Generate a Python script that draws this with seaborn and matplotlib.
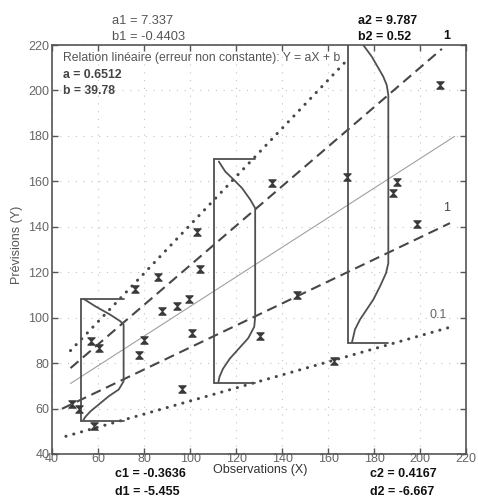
import matplotlib
matplotlib.use("Agg")
import matplotlib.pyplot as plt
from matplotlib.path import Path
import seaborn as sns
import pandas as pd

# ---------------- data ----------------
obs_x = [103.0, 104.5, 86.1, 76.2, 87.6, 94.3, 99.4, 100.9, 79.9, 77.7, 56.7, 60.3,
         135.7, 146.5, 130.6, 168.3, 162.5, 48.7, 51.6, 58.1, 96.5, 189.9, 188.1,
         198.6, 208.7]
pred_y = [137.5, 121.4, 117.9, 112.6, 102.8, 105.0, 108.2, 93.3, 90.3, 83.7, 89.6, 86.7,
          159.2, 110.1, 92.1, 162.1, 80.8, 62.0, 59.6, 52.3, 68.6, 159.9, 154.8,
          141.3, 202.4]

reg_a = 0.6512
reg_b = 39.78
reg_x = [48, 215]

upper_dash_x = [48, 209.5]
upper_dash_y = [77.8, 218.3]
lower_dash_x = [44.3, 213]
lower_dash_y = [59.9, 141.6]
upper_dot_x = [48, 167]
upper_dot_y = [85.5, 212.0]
lower_dot_x = [46, 212]
lower_dot_y = [47.8, 95.5]

# conditional distributions (base X, width, top, bottom, curve offsets / levels)
dist_x0 = [52.6, 110.3, 168.6]
dist_w = [18.5, 18.0, 17.6]
dist_top = [108.4, 169.8, 220.0]
dist_bottom = [54.5, 71.2, 88.9]
dist_has_top_line = [True, True, False]
curve1_dx = [1.2, 6.2, 12.7, 17.1, 18.5, 18.5, 16.4, 12.0, 7.7, 4.1, 1.9, 1.0]
curve1_y = [108.2, 105.0, 101.3, 98.4, 96.9, 72.0, 68.4, 65.4, 61.8, 58.8, 56.4, 55.0]
curve2_dx = [2.2, 5.0, 8.7, 12.3, 15.9, 18.0, 18.0, 17.6, 15.0, 11.0, 7.0, 4.0, 2.5, 2.0]
curve2_y = [168.7, 164.3, 160.7, 157.0, 151.9, 148.2, 100.3, 96.0, 91.0, 86.5, 82.0, 77.5, 74.0, 71.5]
curve3_dx = [6.7, 10.4, 13.3, 15.4, 16.9, 17.6, 17.6, 16.6, 14.0, 11.1, 8.2, 5.3, 3.1, 2.1, 1.8]
curve3_y = [220.0, 214.9, 209.8, 206.1, 202.4, 198.0, 124.0, 119.6, 113.8, 108.0, 103.6, 99.2, 94.8, 90.4, 89.2]
curves_dx = [curve1_dx, curve2_dx, curve3_dx]
curves_y = [curve1_y, curve2_y, curve3_y]

x_ticks = [40, 60, 80, 100, 120, 140, 160, 180, 200, 220]
y_ticks = [40, 60, 80, 100, 120, 140, 160, 180, 200, 220]

# ---------------- style ----------------
sns.set_theme(style="white")
plt.rcParams["font.family"] = ["Liberation Sans", "DejaVu Sans"]

fig = plt.figure(figsize=(4.78, 5.0), dpi=100)
ax = fig.add_axes([0.109, 0.092, 0.866, 0.818])
ax.set_xlim(40, 220)
ax.set_ylim(40, 220)

frame = "#555555"
for s in ax.spines.values():
    s.set_color(frame)
    s.set_linewidth(1.2)
ax.set_xticks(x_ticks)
ax.set_yticks(y_ticks)
ax.tick_params(axis="both", which="both", direction="in", length=4, width=1,
               colors=frame, labelcolor="#666666", labelsize=9, pad=2,
               top=True, right=True, bottom=True, left=True)
ax.tick_params(axis="x", pad=-1)
ax.grid(True, linestyle=(0, (1, 6)), color="#c4c4c4", linewidth=0.8)

dark = "#474747"
# regression line
reg_df = pd.DataFrame({"x": reg_x, "y": [reg_a * v + reg_b for v in reg_x]})
sns.lineplot(data=reg_df, x="x", y="y", ax=ax, color="#a0a0a0", linewidth=0.8)
# dashed bounds
sns.lineplot(x=upper_dash_x, y=upper_dash_y, ax=ax, color=dark, linewidth=1.5,
             linestyle=(0, (5, 2.8)))
sns.lineplot(x=lower_dash_x, y=lower_dash_y, ax=ax, color=dark, linewidth=1.5,
             linestyle=(0, (5, 2.8)))
# dotted bounds
for xs, ys in [(upper_dot_x, upper_dot_y), (lower_dot_x, lower_dot_y)]:
    ln = ax.plot(xs, ys, color=dark, linewidth=2.2, linestyle=(0, (0.05, 2.6)))[0]
    ln.set_dash_capstyle("round")

# distributions
shape_c = "#505050"
for x0, w, top, bot, has_top, cdx, cy in zip(dist_x0, dist_w, dist_top, dist_bottom,
                                             dist_has_top_line, curves_dx, curves_y):
    ax.plot([x0, x0], [bot, top], color=shape_c, linewidth=1.3)
    ax.plot([x0, x0 + w], [bot, bot], color=shape_c, linewidth=1.3)
    if has_top:
        ax.plot([x0, x0 + w], [top, top], color=shape_c, linewidth=1.3)
    ax.plot([x0 + d for d in cdx], cy, color=shape_c, linewidth=1.3)

# points
hour = Path([(-1, 1), (1, 1), (-1, -1), (1, -1), (-1, 1)],
            [Path.MOVETO, Path.LINETO, Path.LINETO, Path.LINETO, Path.CLOSEPOLY])
sns.scatterplot(x=obs_x, y=pred_y, ax=ax, marker=hour, s=28, color="#3a3a3a",
                edgecolor="#3a3a3a", linewidth=0.8, zorder=5)

ax.set_xlabel("")
ax.set_ylabel("")

# in-plot annotations
ax.text(211.6, 145.5, "1", fontsize=9, color="#444444", ha="center", va="bottom")
ax.text(208.0, 98.5, "0.1", fontsize=9, color="#666666", ha="center", va="bottom")

fig.text(0.132, 0.884, "Relation linéaire (erreur non constante): Y = aX + b",
         fontsize=8.8, color="#555555", va="center", ha="left")
fig.text(0.132, 0.850, "a = 0.6512", fontsize=8.8, color="#444444", va="center",
         ha="left", fontweight="bold")
fig.text(0.132, 0.818, "b = 39.78", fontsize=8.8, color="#444444", va="center",
         ha="left", fontweight="bold")

# outer annotations
fig.text(0.234, 0.958, "a1 = 7.337", fontsize=9.3, color="#555555", va="center")
fig.text(0.234, 0.926, "b1 = -0.4403", fontsize=9.3, color="#555555", va="center")
fig.text(0.749, 0.958, "a2 = 9.787", fontsize=9, color="#111111", va="center",
         fontweight="bold")
fig.text(0.749, 0.926, "b2 = 0.52", fontsize=9, color="#111111", va="center",
         fontweight="bold")
fig.text(0.935, 0.928, "1", fontsize=9, color="#111111", va="center", ha="center",
         fontweight="bold")
fig.text(0.241, 0.052, "c1 = -0.3636", fontsize=9, color="#111111", va="center",
         fontweight="bold")
fig.text(0.241, 0.016, "d1 = -5.455", fontsize=9, color="#111111", va="center",
         fontweight="bold")
fig.text(0.774, 0.052, "c2 = 0.4167", fontsize=9, color="#111111", va="center",
         fontweight="bold")
fig.text(0.774, 0.016, "d2 = -6.667", fontsize=9, color="#111111", va="center",
         fontweight="bold")
fig.text(0.544, 0.060, "Observations (X)", fontsize=9, color="#333333",
         va="center", ha="center")
fig.text(0.036, 0.51, "Prévisions (Y)", fontsize=9, color="#555555",
         va="center", ha="center", rotation=90)

fig.savefig("out.png", dpi=100)
